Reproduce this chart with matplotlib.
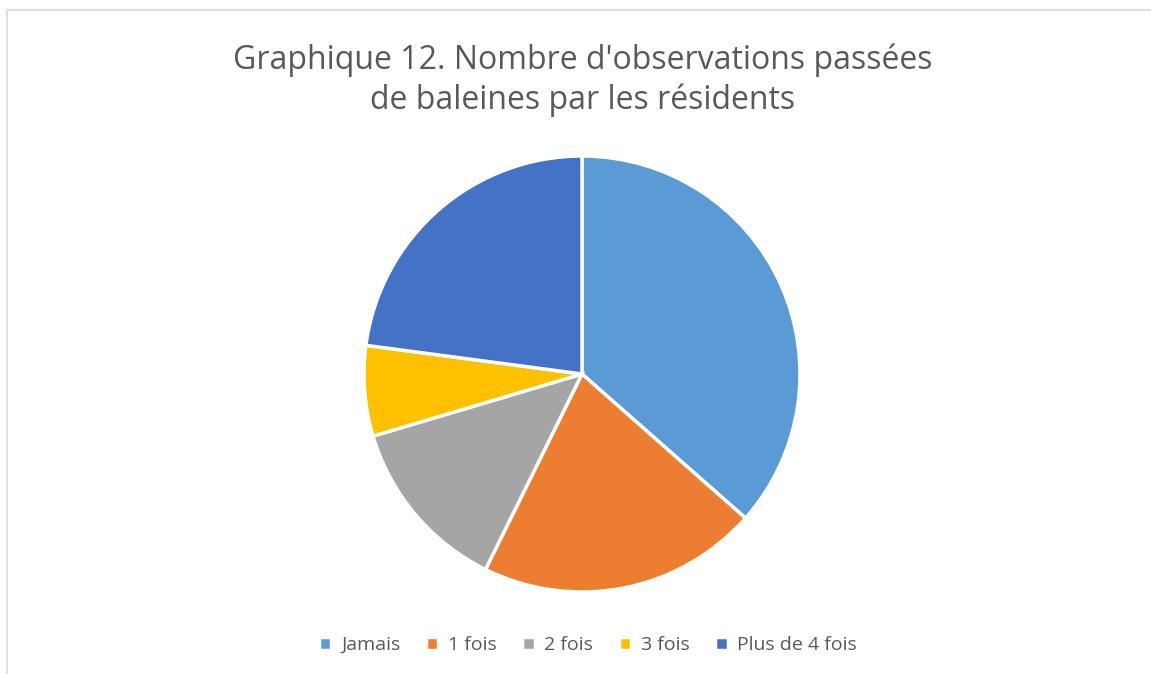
import matplotlib.pyplot as plt
from matplotlib.patches import Rectangle

labels = ['Jamais', '1 fois', '2 fois', '3 fois', 'Plus de 4 fois']
values = [36.5, 20.8, 13.1, 6.7, 22.9]
colors = ['#5B9BD5', '#ED7D31', '#A5A5A5', '#FFC000', '#4472C4']

W, H = 1151, 674
fig = plt.figure(figsize=(W / 100, H / 100), dpi=100)
plt.rcParams['font.family'] = ['Open Sans', 'DejaVu Sans']

# chart border (light gray frame, cut off at right and bottom)
fig.patches.append(Rectangle((7 / W, -0.1), 1.2, 1 - 10 / H + 0.1,
                             transform=fig.transFigure, fill=False,
                             edgecolor='#D9D9D9', linewidth=1.2))

cx, cy, r = 582, 374, 218
ax = fig.add_axes([(cx - r) / W, 1 - (cy + r) / H, 2 * r / W, 2 * r / H])
wedges, _ = ax.pie(values, colors=colors, startangle=90, counterclock=False,
                   radius=1, wedgeprops=dict(edgecolor='white', linewidth=2.5))
ax.set_xlim(-1, 1)
ax.set_ylim(-1, 1)
ax.set_aspect('equal')
ax.axis('off')

fig.text(583 / W, 1 - 80 / H,
         "Graphique 12. Nombre d'observations passées\nde baleines par les résidents",
         ha='center', va='center', fontsize=23, color='#595959', linespacing=1.25)

fig.legend(wedges, labels, loc='center', bbox_to_anchor=(588 / W, 1 - 645 / H),
           ncol=5, frameon=False, fontsize=14, labelcolor='#595959',
           handlelength=0.65, handleheight=0.65, handletextpad=0.5, columnspacing=1.3)

fig.savefig('out.png', dpi=100)
